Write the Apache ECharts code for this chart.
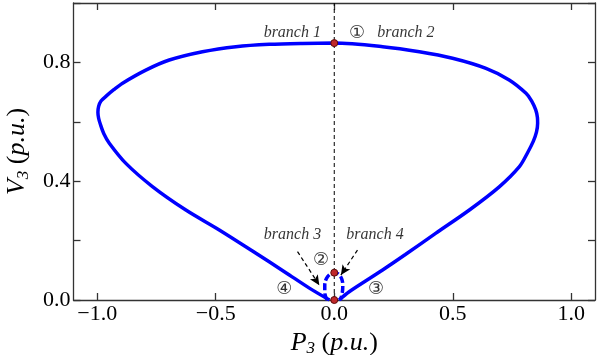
<!DOCTYPE html>
<html>
<head>
<meta charset="utf-8">
<script src="https://cdn.jsdelivr.net/npm/echarts@6/dist/echarts.min.js"></script>
<style>
  html, body { margin: 0; padding: 0; background: #fff; }
  #main { width: 597px; height: 355px; }
</style>
</head>
<body>
<div id="main"></div>
<script>
  // big P-V loop, from the bottom-left foot round to the bottom-right foot
  const loopP = [-0.02, -0.105, -0.204, -0.345, -0.485, -0.626, -0.767, -0.879, -0.949, -0.972, -0.986, -0.994, -0.997,
    -0.994, -0.984, -0.960, -0.930, -0.893, -0.795, -0.696, -0.556, -0.415, -0.274, -0.134, 0.0,
    0.204, 0.359, 0.499, 0.640, 0.738, 0.809, 0.833, 0.850, 0.857, 0.858, 0.853, 0.840, 0.815, 0.781, 0.696, 0.570, 0.429, 0.300, 0.204, 0.063, 0.02]
  const loopV = [0.0, 0.040, 0.092, 0.165, 0.236, 0.303, 0.382, 0.460, 0.528, 0.560, 0.590, 0.612, 0.632,
    0.652, 0.670, 0.688, 0.708, 0.730, 0.774, 0.808, 0.836, 0.853, 0.861, 0.864, 0.865,
    0.853, 0.836, 0.814, 0.780, 0.741, 0.696, 0.670, 0.640, 0.615, 0.595, 0.565, 0.535, 0.495, 0.449, 0.381, 0.303, 0.225, 0.153, 0.101, 0.028, 0.0]

  // small arc near the origin (branch 2)
  const arcP = [-0.030, -0.040, -0.040, -0.033, -0.018, 0.0, 0.018, 0.031, 0.036, 0.034, 0.026]
  const arcV = [0.0, 0.025, 0.050, 0.072, 0.087, 0.092, 0.087, 0.072, 0.050, 0.025, 0.0]

  // marked operating points
  const dotP = [0.0, 0.0, 0.0]
  const dotV = [0.865, 0.092, 0.0]

  // branch labels
  const noteText = ['branch 1', 'branch 2', 'branch 3', 'branch 4']
  const noteP = [-0.177, 0.302, -0.176, 0.172]
  const noteV = [0.899, 0.899, 0.219, 0.219]

  // circled branch numbers
  const circText = ['\u2460', '\u2461', '\u2462', '\u2463']
  const circP = [0.096, -0.056, 0.176, -0.211]
  const circV = [0.899, 0.132, 0.036, 0.036]

  // dashed arrows [fromP, fromV, toP, toV]
  const arrows = [
    [-0.155, 0.163, -0.063, 0.050],
    [0.098, 0.168, 0.028, 0.084]
  ]

  const xTicks = [-1.0, -0.5, 0.0, 0.5, 1.0]
  const yLabels = [0.0, 0.4, 0.8]

  const serif = 'Liberation Serif'
  const axisLine = { show: true, onZero: false, lineStyle: { color: '#333', width: 1.3 } }
  const tickStyle = { inside: true, length: 7, lineStyle: { color: '#333', width: 1.3 } }
  const nameRich = {
    i: { fontFamily: serif, fontStyle: 'italic', fontSize: 26, color: '#000' },
    s: { fontFamily: serif, fontStyle: 'italic', fontSize: 17, color: '#000', padding: [12, 0, 0, 0] },
    n: { fontFamily: serif, fontSize: 26, color: '#000' }
  }

  const zip = (a, b) => a.map((v, i) => [v, b[i]])
  const fmt = v => (v < 0 ? '\u2212' : '') + Math.abs(v).toFixed(1)

  let myChart = echarts.init(document.getElementById('main'))
  let option = {
    animation: false,
    grid: { left: 73.5, right: 2, top: 3, bottom: 55, outerBoundsMode: 'none' },
    xAxis: [
      {
        type: 'value', min: -1.1, max: 1.1, position: 'bottom',
        axisLine: axisLine,
        axisTick: Object.assign({ customValues: xTicks }, tickStyle),
        axisLabel: { customValues: xTicks, formatter: fmt, margin: 3, color: '#000', fontFamily: serif, fontSize: 22 },
        splitLine: { show: false },
        name: '{i|P}{s|3}{n| (}{i|p.u.}{n|)}',
        nameLocation: 'middle',
        nameGap: 22,
        nameTextStyle: { rich: nameRich }
      },
      {
        type: 'value', min: -1.1, max: 1.1, position: 'top',
        axisLine: axisLine,
        axisTick: Object.assign({ customValues: xTicks }, tickStyle),
        axisLabel: { show: false },
        splitLine: { show: false }
      }
    ],
    yAxis: [
      {
        type: 'value', min: 0, max: 1.0, interval: 0.2, position: 'left',
        axisLine: axisLine,
        axisTick: tickStyle,
        axisLabel: {
          margin: 3, color: '#000', fontFamily: serif, fontSize: 22,
          formatter: v => yLabels.some(l => Math.abs(l - v) < 1e-6) ? v.toFixed(1) : ''
        },
        splitLine: { show: false },
        name: '{i|V}{s|3}{n| (}{i|p.u.}{n|)}',
        nameLocation: 'middle',
        nameGap: 33,
        nameRotate: 90,
        nameTextStyle: { rich: nameRich }
      },
      {
        type: 'value', min: 0, max: 1.0, interval: 0.2, position: 'right',
        axisLine: axisLine,
        axisTick: tickStyle,
        axisLabel: { show: false },
        splitLine: { show: false }
      }
    ],
    series: [
      {
        type: 'line',
        data: [[0, 0], [0, 1]],
        symbol: 'none',
        z: 1,
        lineStyle: { color: '#000', width: 1, type: [4, 3] }
      },
      {
        type: 'line',
        data: zip(loopP, loopV),
        smooth: 0.3,
        symbol: 'none',
        z: 2,
        lineStyle: { color: '#0000ff', width: 3.5 }
      },
      {
        type: 'line',
        data: zip(arcP, arcV),
        smooth: 0.4,
        symbol: 'none',
        z: 2,
        lineStyle: { color: '#0000ff', width: 3.5, type: [7, 3] }
      },
      {
        type: 'scatter',
        data: zip(dotP, dotV),
        symbolSize: 7,
        z: 5,
        itemStyle: { color: '#c0282a', borderColor: '#5a0a0a', borderWidth: 1, opacity: 1 }
      },
      {
        type: 'scatter',
        data: noteText.map((t, i) => ({ value: [noteP[i], noteV[i]], name: t })),
        symbolSize: 0,
        z: 6,
        label: {
          show: true, position: 'inside', formatter: p => p.name,
          fontFamily: serif, fontStyle: 'italic', fontSize: 16, color: '#000'
        },
        markLine: {
          silent: true,
          symbol: ['none', 'arrow'],
          symbolSize: [7, 10],
          label: { show: false },
          lineStyle: { color: '#000', width: 1.2, type: [4, 3] },
          data: arrows.map(a => [{ coord: [a[0], a[1]] }, { coord: [a[2], a[3]] }])
        }
      },
      {
        type: 'scatter',
        data: circText.map((t, i) => ({ value: [circP[i], circV[i]], name: t })),
        symbolSize: 0,
        z: 6,
        label: {
          show: true, position: 'inside', formatter: p => p.name,
          fontFamily: 'DejaVu Sans', fontSize: 18, color: '#000'
        }
      }
    ]
  }
  myChart.setOption(option)
</script>
</body>
</html>
